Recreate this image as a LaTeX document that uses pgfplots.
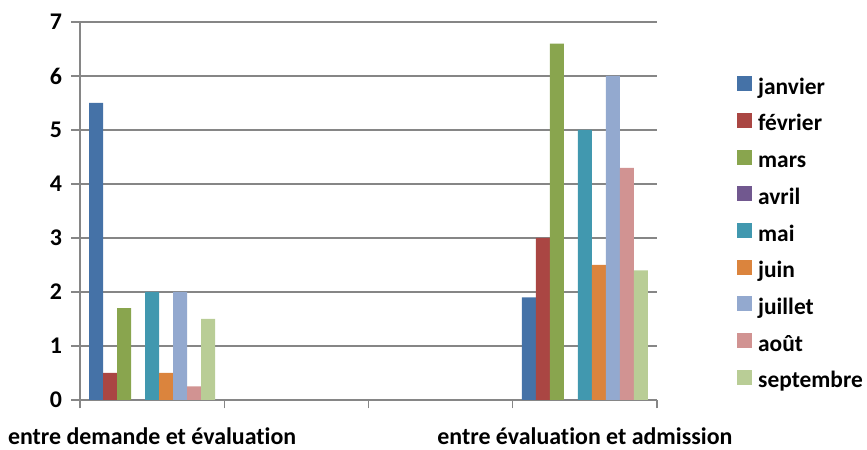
\documentclass[border=0pt]{standalone}
\usepackage{fontspec}
\setmainfont{Carlito}[Ligatures=NoCommon]
\usepackage{pgfplots}
\pgfplotsset{compat=1.18}

\definecolor{axgray}{HTML}{868686}
\definecolor{cJan}{HTML}{4572A7}
\definecolor{cFev}{HTML}{AA4643}
\definecolor{cMar}{HTML}{89A54E}
\definecolor{cAvr}{HTML}{71588F}
\definecolor{cMai}{HTML}{4198AF}
\definecolor{cJui}{HTML}{DB843D}
\definecolor{cJul}{HTML}{93A9CF}
\definecolor{cAou}{HTML}{D19392}
\definecolor{cSep}{HTML}{B9CD96}

\begin{document}
\begin{tikzpicture}[x=1bp,y=1bp]
\useasboundingbox (-80,-50) rectangle (787,400);
\begin{axis}[
  at={(0,0)}, anchor=south west,
  scale only axis, width=577bp, height=378bp,
  ybar=0pt, bar width=14bp,
  xmin=-0.5, xmax=3.5, ymin=0, ymax=7,
  axis x line*=bottom, axis y line*=left,
  axis line style={draw=axgray, line width=1.3bp, -},
  ytick={0,1,...,7},
  ymajorgrids, grid style={draw=axgray, line width=1.3bp},
  tick align=outside, major tick length=8.5bp,
  tick style={draw=axgray, line width=1.3bp},
  xtick={-0.5,0.5,1.5,2.5,3.5}, xticklabels={,,,,},
  extra x ticks={0,3},
  extra x tick labels={entre demande et évaluation, entre évaluation et admission},
  extra x tick style={major tick length=0pt, xticklabel style={anchor=base, yshift=-45bp}},
  /pgf/number format/assume math mode=true,
  ticklabel style={font=\fontsize{24}{28}\selectfont\bfseries},
  yticklabel style={xshift=-6bp},
  legend style={at={(1.1386,0.857)}, anchor=north west, draw=none, fill=none,
    inner sep=0pt, row sep=13.7bp,
    font=\fontsize{23.5}{28}\selectfont\bfseries,
    nodes={inner sep=0pt, text height=15bp, text depth=5bp},
    /tikz/every odd column/.append style={column sep=6bp},
    cells={anchor=west}},
  legend image code/.code={\fill[#1] (0bp,-2bp) rectangle (15bp,13bp);},
]
\addplot[fill=cJan, draw=none] coordinates {(0,5.5) (3,1.9)};
\addplot[fill=cFev, draw=none] coordinates {(0,0.5) (3,3.0)};
\addplot[fill=cMar, draw=none] coordinates {(0,1.7) (3,6.6)};
\addplot[fill=cAvr, draw=none] coordinates {(0,0) (3,0)};
\addplot[fill=cMai, draw=none] coordinates {(0,2.0) (3,5.0)};
\addplot[fill=cJui, draw=none] coordinates {(0,0.5) (3,2.5)};
\addplot[fill=cJul, draw=none] coordinates {(0,2.0) (3,6.0)};
\addplot[fill=cAou, draw=none] coordinates {(0,0.25) (3,4.3)};
\addplot[fill=cSep, draw=none] coordinates {(0,1.5) (3,2.4)};
\legend{janvier, février, mars, avril, mai, juin, juillet, août, septembre}
\end{axis}
\end{tikzpicture}
\end{document}
